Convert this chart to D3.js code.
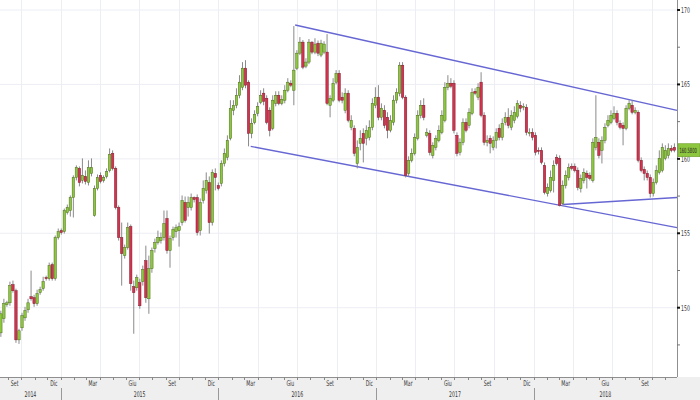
<!DOCTYPE html>
<html><head><meta charset="utf-8">
<script src="https://cdn.jsdelivr.net/npm/d3@7"></script>
<style>body{margin:0;background:#fff} svg{display:block}</style>
</head><body><svg id="c" width="700" height="400"></svg>
<script>
// ---- DATA ----
const firstWeek = "2014-08-15";   // weekly candles (Friday dates)
const opens = [
148.31,149.26,150.20,150.33,151.55,151.14,147.84,148.65,149.32,149.86,
150.74,150.67,150.27,151.01,151.28,152.02,151.95,152.89,151.95,154.71,
155.18,155.11,156.39,156.53,157.40,158.75,159.36,158.55,158.82,158.41,
159.02,156.19,158.01,158.89,158.55,158.82,159.22,160.37,159.36,156.73,
154.71,153.50,154.04,155.45,151.41,151.34,151.68,151.75,153.16,150.60,
152.62,153.97,154.37,154.51,154.71,155.99,153.84,154.71,155.11,155.18,
155.72,157.07,156.73,156.73,157.40,157.40,155.18,157.20,157.88,158.41,
155.72,159.02,158.21,158.35,159.69,160.10,161.38,163.26,163.60,164.27,
164.81,166.09,165.15,161.71,162.45,163.06,163.80,164.41,164.07,163.26,
162.05,163.73,164.27,163.73,163.94,164.61,165.08,164.61,166.09,167.10,
167.84,166.23,166.50,167.84,167.17,167.77,166.97,167.17,167.17,163.60,
163.94,165.15,165.75,164.14,163.26,164.41,162.12,162.05,159.69,161.04,
161.71,161.38,161.44,162.12,163.60,164.14,162.79,163.26,162.79,161.92,
162.45,163.94,164.41,166.29,164.14,159.02,159.90,160.37,161.38,162.93,
163.60,161.58,161.71,160.23,160.77,161.24,161.78,162.59,164.81,165.08,
165.08,161.58,160.44,161.11,162.45,162.25,163.06,164.54,164.14,165.15,
162.93,161.11,161.38,160.77,161.24,162.05,161.44,162.45,162.79,162.12,
162.59,162.86,163.60,163.46,163.46,161.71,161.78,161.58,160.57,160.57,
159.56,157.67,157.88,158.55,160.10,160.03,157.00,158.21,158.75,159.49,
159.49,159.22,158.01,158.55,159.02,158.89,158.55,160.77,161.11,160.57,
161.24,162.25,162.45,162.72,163.06,162.39,162.25,162.05,163.40,163.60,
163.13,163.13,159.90,159.29,159.02,158.75,157.67,158.41,159.09,159.22,
160.03,160.23,160.70,160.77];
const highs = [
149.80,150.60,150.47,151.75,151.82,151.28,148.58,149.66,150.06,150.60,
152.49,150.87,151.21,151.41,152.08,152.15,153.03,153.03,154.85,155.32,
155.32,156.66,156.93,157.54,158.89,159.56,159.49,160.03,159.22,159.90,
160.03,158.21,158.95,159.09,158.89,159.36,160.70,160.57,159.49,156.87,
155.72,154.24,155.72,155.59,151.82,152.22,151.95,152.83,154.17,153.50,
154.04,154.64,155.18,155.05,156.53,156.53,154.85,155.45,155.59,155.72,
157.54,157.47,157.47,157.67,157.47,157.61,157.34,158.55,159.09,158.82,
159.29,159.36,158.41,159.90,160.70,161.58,163.94,163.94,164.74,165.62,
166.50,166.63,165.28,162.72,163.26,163.80,164.61,164.74,164.27,163.46,
164.27,164.54,164.54,164.27,164.95,165.42,165.28,168.92,167.30,168.18,
167.98,166.76,168.05,167.90,168.10,167.95,168.00,167.90,168.38,164.27,
165.42,165.96,165.96,164.47,164.74,164.61,162.93,162.25,161.24,161.92,
162.05,162.25,162.59,164.07,164.81,164.95,163.73,163.60,163.13,162.93,
164.27,164.74,166.50,166.50,164.27,160.17,160.70,161.71,163.26,163.94,
164.07,162.05,161.92,161.11,161.58,162.25,163.26,165.15,165.62,165.42,
165.28,161.78,161.38,162.72,162.72,163.40,164.74,164.74,165.08,165.82,
163.13,161.58,161.58,161.51,162.05,162.32,162.72,163.13,163.40,163.26,
163.53,163.94,163.87,163.73,163.67,162.05,162.05,161.78,160.77,160.77,
159.76,158.35,159.22,159.90,160.30,160.23,158.55,159.22,159.69,159.69,
159.69,159.42,158.95,159.36,159.22,159.09,161.38,164.27,161.38,161.51,
162.39,162.93,163.26,163.53,163.26,162.59,162.45,163.60,163.94,163.94,
163.46,163.26,160.10,159.49,159.22,158.95,158.68,159.56,160.57,161.04,
160.91,161.04,160.91,161.04];
const lows = [
148.04,148.99,150.06,150.13,151.01,147.64,147.57,148.45,149.12,149.66,
150.47,150.06,150.13,150.87,151.14,151.82,151.82,151.82,151.82,154.58,
154.91,154.98,156.26,156.12,156.06,158.55,158.15,158.35,158.28,158.21,
158.82,156.12,157.88,158.35,158.41,158.68,159.09,159.22,156.60,154.51,
151.48,153.30,153.90,151.14,148.25,151.14,149.93,151.48,150.33,149.59,
152.35,153.70,154.24,154.31,154.51,153.63,152.69,154.51,154.71,154.10,
155.52,155.72,156.12,156.53,157.07,154.85,154.85,157.00,157.67,154.98,
155.52,157.88,157.88,158.15,159.49,159.90,161.24,162.93,163.40,164.07,
164.61,164.74,160.84,161.38,162.32,162.86,163.67,163.60,162.32,161.51,
161.92,163.53,163.60,163.60,163.73,164.47,164.81,163.60,165.96,166.97,
166.02,166.09,166.36,167.03,167.03,166.90,166.83,167.03,163.60,162.79,
163.80,165.01,163.80,163.73,163.06,162.45,161.92,160.17,159.36,160.57,
159.76,160.91,161.24,161.92,163.40,162.59,162.59,162.05,161.38,161.78,
162.25,163.73,164.20,164.00,158.75,158.82,159.76,160.23,161.24,162.72,
162.59,161.44,160.23,160.03,160.57,161.11,161.65,162.45,164.61,164.74,
161.71,160.17,160.23,160.91,161.78,162.05,162.93,164.27,163.94,162.79,
160.91,160.84,160.37,160.57,160.70,161.24,161.24,162.25,162.05,161.92,
162.39,162.72,163.13,163.26,161.58,161.51,161.24,160.23,160.30,159.63,
157.61,157.47,157.74,157.74,159.56,156.80,156.87,158.01,158.55,159.22,
159.09,157.88,157.74,158.35,158.01,158.55,158.41,160.57,160.03,159.69,
161.04,162.12,162.32,162.59,162.25,161.98,160.91,161.92,163.26,162.99,
162.99,159.76,159.09,158.55,158.55,157.40,157.47,158.28,158.95,159.09,
159.90,160.03,160.44,160.44];
const closes = [
149.59,150.27,150.33,151.48,151.14,147.84,148.45,149.46,149.80,150.33,
150.60,150.27,150.94,151.21,151.75,151.95,152.83,151.95,154.71,155.11,
155.05,156.53,156.73,157.40,158.75,159.42,158.41,158.89,158.48,159.42,
159.42,158.01,158.75,158.48,158.75,159.15,160.30,159.36,156.73,154.71,
153.63,154.04,155.38,151.61,151.01,152.02,150.13,152.56,150.67,152.62,
153.84,154.37,154.71,154.71,155.65,153.84,154.64,155.25,155.38,155.45,
157.20,155.86,157.07,157.40,157.27,155.05,157.07,158.01,158.55,155.72,
159.09,158.75,158.01,159.69,160.37,161.24,163.40,163.60,164.27,165.15,
166.09,164.95,161.71,162.39,162.99,163.53,164.27,163.87,162.45,161.92,
163.94,164.27,163.73,164.00,164.61,165.15,164.95,165.96,167.10,167.84,
166.16,166.50,167.84,167.17,167.71,167.10,167.77,167.71,163.73,164.07,
165.08,165.75,163.94,163.94,164.41,162.59,162.59,160.37,160.77,161.38,
161.04,161.92,162.12,163.73,164.14,162.79,163.40,162.25,161.92,162.59,
163.94,164.47,166.29,164.14,158.89,159.90,160.37,161.44,162.93,163.60,
162.79,161.78,160.44,160.91,161.38,161.92,162.93,164.81,165.08,164.88,
161.92,160.37,161.11,162.45,161.92,163.13,164.47,164.41,164.81,162.93,
161.11,161.24,161.04,161.24,161.78,161.44,162.39,162.79,162.25,162.93,
163.13,163.73,163.40,163.53,161.78,161.78,161.44,160.44,160.50,159.76,
157.74,158.08,158.75,159.56,159.69,156.87,158.21,158.89,159.42,159.36,
159.22,158.08,158.68,159.09,158.75,158.68,161.11,161.44,160.23,161.24,
162.12,162.59,162.93,163.06,162.45,162.12,162.05,163.40,163.73,163.13,
163.26,159.90,159.22,159.02,158.75,157.67,158.41,159.22,160.03,160.77,
160.57,160.70,160.57,160.58];
const yTickValues = [150, 155, 160, 165, 170];
const yMinorValues = [147.5, 152.5, 157.5, 162.5, 167.5];
const monthNames = ["Gen","Feb","Mar","Apr","Mag","Giu","Lug","Ago","Set","Ott","Nov","Dic"];
const labelledMonths = [2, 5, 8, 11];
const channelTop = [{d:"2016-06-27", p:168.99}, {d:"2018-11-29", p:163.26}];
const channelBottom = [{d:"2016-03-16", p:160.84}, {d:"2018-11-29", p:155.38}];
const supportLine = [{d:"2018-03-10", p:156.93}, {d:"2018-11-29", p:157.40}];
const lastLabel = "160.5800";

// ---- LAYOUT ----
const W = 700, H = 400, plotR = 677, plotB = 377;
const svg = d3.select("#c");
const parse = d3.utcParse("%Y-%m-%d");
const t0 = parse("2014-08-13"), t1 = parse("2018-11-29");
const x = d3.scaleUtc().domain([t0, t1]).range([0, plotR]);
const y = d3.scaleLinear().domain([150, 170]).range([307.7, 10]);
const start = parse(firstWeek);
const candles = opens.map((o, i) => ({date: d3.utcDay.offset(start, 7 * i), o, h: highs[i], l: lows[i], c: closes[i]}));

const FONT = "'DejaVu Sans Condensed','Liberation Sans Narrow','DejaVu Sans',sans-serif";
function label(g, tx, ty, txt, anchor, size, fill, sx) {
  g.append("text").attr("transform", `translate(${tx},${ty}) scale(${sx || 0.66},1)`)
    .attr("text-anchor", anchor || "start").attr("font-family", FONT)
    .attr("font-size", size || 7.8).attr("fill", fill || "#333").text(txt);
}

svg.append("rect").attr("width", W).attr("height", H).attr("fill", "#fff");
// bottom axis band
svg.append("rect").attr("x", 0).attr("y", plotB).attr("width", W).attr("height", H - plotB).attr("fill", "#efefef");

// grid
const grid = svg.append("g");
grid.selectAll("line.h").data(yTickValues).join("line")
  .attr("x1", 0).attr("x2", plotR).attr("y1", d => y(d)).attr("y2", d => y(d))
  .attr("stroke", "#eceef4").attr("stroke-width", 1);
const quarters = d3.utcMonth.every(3).range(t0, t1);
grid.selectAll("line.v").data(quarters).join("line")
  .attr("x1", d => Math.round(x(d)) + 0.5).attr("x2", d => Math.round(x(d)) + 0.5)
  .attr("y1", 0).attr("y2", plotB).attr("stroke", "#eceef4").attr("stroke-width", 1);

// channel lines
const line = d3.line().x(d => x(parse(d.d))).y(d => y(d.p));
[channelTop, channelBottom, supportLine].forEach(pts => {
  svg.append("path").attr("d", line(pts)).attr("fill", "none")
    .attr("stroke", "#6767d4").attr("stroke-width", 1.4);
});

// candles
const cg = svg.append("g");
cg.selectAll("line.wick").data(candles).join("line")
  .attr("x1", d => x(d.date)).attr("x2", d => x(d.date))
  .attr("y1", d => y(d.h)).attr("y2", d => y(d.l))
  .attr("stroke", "#8a8a8a").attr("stroke-width", 1);
cg.selectAll("rect.body").data(candles).join("rect")
  .attr("x", d => x(d.date) - 1.2).attr("width", 2.4)
  .attr("y", d => y(Math.max(d.o, d.c)))
  .attr("height", d => Math.max(1, Math.abs(y(d.o) - y(d.c))))
  .attr("fill", d => d.c >= d.o ? "#8dc63f" : "#d2334f")
  .attr("stroke", d => d.c >= d.o ? "#4d6e1c" : "#7e1a2a").attr("stroke-width", 0.5);

// right axis
svg.append("line").attr("x1", plotR + 0.5).attr("x2", plotR + 0.5).attr("y1", 0).attr("y2", plotB)
  .attr("stroke", "#8f8f8f");
const ra = svg.append("g");
yMinorValues.concat([172.5]).forEach(v => {
  ra.append("line").attr("x1", plotR).attr("x2", plotR + 3).attr("y1", y(v)).attr("y2", y(v)).attr("stroke", "#777");
});
yTickValues.forEach(v => {
  ra.append("rect").attr("x", plotR).attr("y", y(v) - 1).attr("width", 3).attr("height", 2).attr("fill", "#111");
  label(ra, plotR + 4, y(v) + 2.8, String(v));
});

// last price tag
svg.append("rect").attr("x", plotR + 1).attr("y", y(160.58) - 6.5).attr("width", 22).attr("height", 13)
  .attr("fill", "#8dc63f").attr("stroke", "#6e9e2c").attr("stroke-width", 0.6);
label(svg, plotR + 2.5, y(160.58) + 2.6, lastLabel, "start", 7.2, "#222", 0.56);

// bottom axis
svg.append("line").attr("x1", 0).attr("x2", plotR).attr("y1", plotB + 0.5).attr("y2", plotB + 0.5).attr("stroke", "#8f8f8f");
const ba = svg.append("g");
d3.utcMonth.range(t0, t1).forEach(m => {
  ba.append("line").attr("x1", Math.round(x(m)) + 0.5).attr("x2", Math.round(x(m)) + 0.5)
    .attr("y1", plotB).attr("y2", plotB + 3).attr("stroke", "#888");
  if (labelledMonths.includes(m.getUTCMonth())) {
    label(ba, x(d3.utcDay.offset(m, 15)), 385.5, monthNames[m.getUTCMonth()], "middle");
  }
});
d3.utcYear.range(d3.utcYear.floor(t0), t1).forEach(yr => {
  const a = yr < t0 ? t0 : yr, b = d3.utcYear.offset(yr, 1) > t1 ? t1 : d3.utcYear.offset(yr, 1);
  if (yr >= t0) {
    ba.append("line").attr("x1", Math.round(x(yr)) + 0.5).attr("x2", Math.round(x(yr)) + 0.5)
      .attr("y1", 388).attr("y2", H).attr("stroke", "#999");
  }
  label(ba, (x(a) + x(b)) / 2, 397, String(yr.getUTCFullYear()), "middle");
});
</script></body></html>
